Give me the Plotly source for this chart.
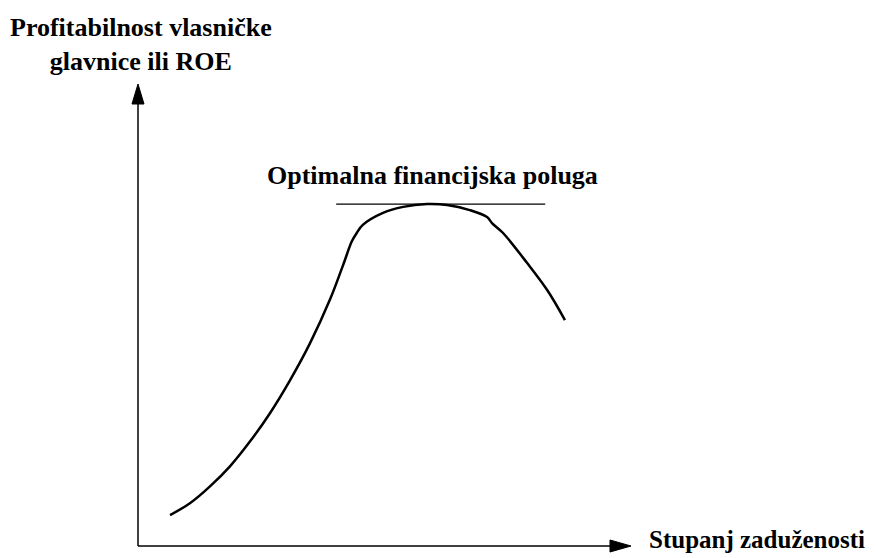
import plotly.graph_objects as go

# Curve: ROE vs. degree of leverage (0-100 scale)
leverage = [6.5, 10.6, 14.6, 18.7, 22.7, 26.8, 30.8, 34.9, 39.0, 41.6, 43.4, 44.4, 45.6,
            49.7, 53.8, 58.6, 62.7, 67.3, 70.8, 71.8, 74.0, 78.9, 83.0, 86.6]
roe = [6.7, 9.3, 12.9, 17.3, 22.6, 28.8, 35.8, 43.9, 53.5, 60.8, 66.0, 67.8, 69.5,
       72.1, 73.4, 74.0, 73.8, 72.7, 71.2, 69.9, 67.8, 61.3, 55.4, 48.9]

# Horizontal tangent at the optimum
tangent_x = [40.2, 82.6]
tangent_y = [74.0, 74.0]

y_label = "Profitabilnost vlasničke<br>glavnice ili ROE"
x_label = "Stupanj zaduženosti"
opt_label = "Optimalna financijska poluga"

FONT = "Liberation Serif, Times New Roman, serif"

fig = go.Figure()
fig.add_trace(go.Scatter(x=leverage, y=roe, mode="lines",
                         line=dict(color="black", width=2.5, shape="spline", smoothing=1.0),
                         hoverinfo="skip", showlegend=False))
fig.add_trace(go.Scatter(x=tangent_x, y=tangent_y, mode="lines",
                         line=dict(color="black", width=1.2),
                         hoverinfo="skip", showlegend=False))

# Axes with arrowheads
line_style = dict(color="black", width=1.5)
fig.add_shape(type="line", xref="paper", yref="paper", x0=0, y0=0, x1=0, y1=0.96, line=line_style)
fig.add_shape(type="line", xref="paper", yref="paper", x0=0, y0=0, x1=0.96, y1=0, line=line_style)
fig.add_shape(type="path", xref="paper", yref="paper",
              path="M 0,1 L -0.0122,0.9567 L 0.0122,0.9567 Z",
              fillcolor="black", line=dict(color="black", width=1))
fig.add_shape(type="path", xref="paper", yref="paper",
              path="M 1,0 L 0.9574,0.013 L 0.9574,-0.013 Z",
              fillcolor="black", line=dict(color="black", width=1))

font = dict(family=FONT, size=26, color="black")
fig.add_annotation(xref="paper", yref="paper", x=0.006, y=1.085, text="<b>" + y_label + "</b>",
                   showarrow=False, align="center", xanchor="center", yanchor="middle", font=font)
fig.add_annotation(xref="paper", yref="paper", x=0.598, y=0.801, text="<b>" + opt_label + "</b>",
                   showarrow=False, xanchor="center", yanchor="middle", font=font)
fig.add_annotation(xref="paper", yref="paper", x=1.0335, y=0.013, text="<b>" + x_label + "</b>",
                   showarrow=False, xanchor="left", yanchor="middle",
                   font=dict(family=FONT, size=25, color="black"), borderpad=0)

# page body adds an 8px offset; figure sized so it fits the window exactly
fig.update_layout(
    width=870, height=550,
    margin=dict(l=130, r=247, t=76, b=12),
    paper_bgcolor="white", plot_bgcolor="white",
    xaxis=dict(range=[0, 100], visible=False, fixedrange=True),
    yaxis=dict(range=[0, 100], visible=False, fixedrange=True),
    showlegend=False,
)

fig.write_html("out.html")
